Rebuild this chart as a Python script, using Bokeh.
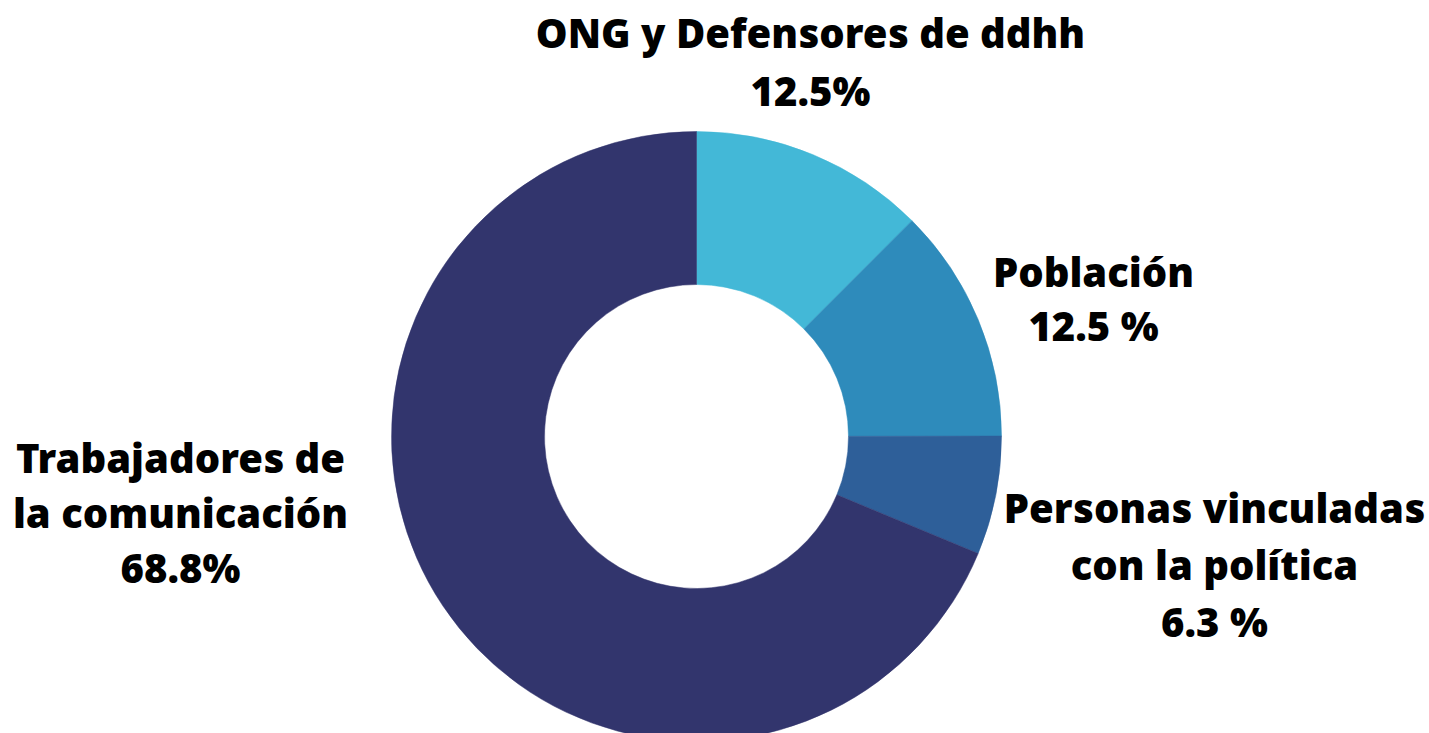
import numpy as np
from bokeh.plotting import figure
from bokeh.models import Range1d, ColumnDataSource
from bokeh.core.properties import value
from bokeh.embed import file_html
from bokeh.resources import INLINE

categories = ["ONG y Defensores de ddhh", "Población", "Personas vinculadas con la política", "Trabajadores de la comunicación"]
values = [12.5, 12.5, 6.3, 68.8]
colors = ["#43B8D7", "#2E8BBB", "#2E5F99", "#32356D"]

label_lines = [
    ["ONG y Defensores de ddhh", "12.5%"],
    ["Población", "12.5 %"],
    ["Personas vinculadas", "con la política", "6.3 %"],
    ["Trabajadores de", "la comunicación", "68.8%"],
]

W, H = 1429, 733
PAGE_H = 733

def py(y):
    return PAGE_H - y

p = figure(width=W, height=H, output_backend="svg", toolbar_location=None,
           x_range=Range1d(0, W), y_range=Range1d(PAGE_H - H, PAGE_H),
           min_border=0, outline_line_color=None)
p.axis.visible = False
p.grid.visible = False
p.background_fill_color = "white"
p.border_fill_color = "white"

cx, cy = 696, py(436)
r_out, r_in = 305, 152

vals = np.array(values)
frac = vals / vals.sum()
cum = np.concatenate([[0], np.cumsum(frac)])
start = np.pi / 2 - cum[:-1] * 2 * np.pi
end = np.pi / 2 - cum[1:] * 2 * np.pi

src = ColumnDataSource(dict(start=start, end=end, color=colors, cat=categories))
p.annular_wedge(x=cx, y=cy, inner_radius=r_in, outer_radius=r_out,
                start_angle="start", end_angle="end", direction="clock",
                fill_color="color", line_color="color", line_width=0.5, source=src)

# label anchor (center x, first baseline, line gap) in page pixels
anchors = [(810, 49, 58), (1093, 288, 54), (1214, 524, 57), (180, 474, 55)]
OFF = -17
xs, ys, ts = [], [], []
for lines, (ax, ay, gap) in zip(label_lines, anchors):
    for i, t in enumerate(lines):
        xs.append(ax)
        ys.append(py(ay + i * gap + OFF))
        ts.append(t)

p.text(x=xs, y=ys, text=ts, text_font=value("Open Sans ExtraBold, Open Sans"), text_font_style="bold",
       text_font_size="40px", text_align="center", text_baseline="alphabetic",
       text_color="#000000")

open("out.html", "w").write(file_html(p, INLINE))
